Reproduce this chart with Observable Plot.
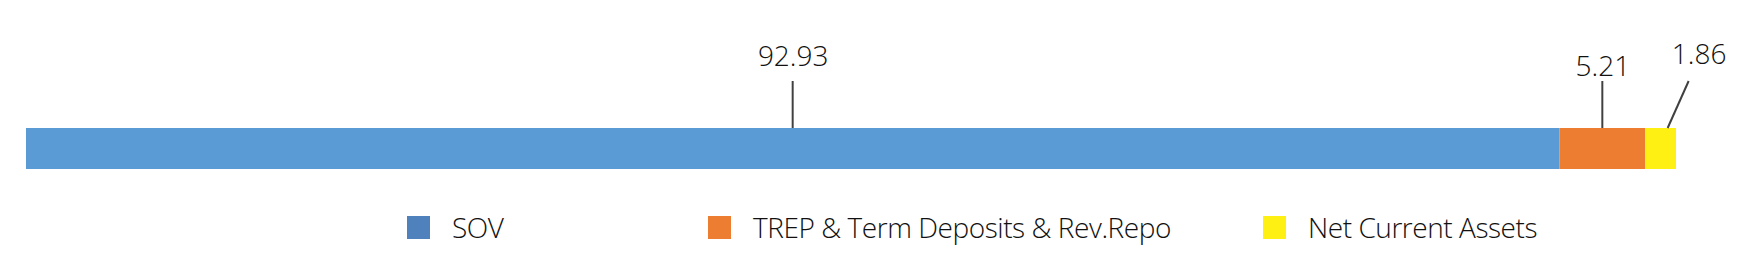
<!DOCTYPE html>
<html>
<head>
<meta charset="utf-8">
<script src="https://cdn.jsdelivr.net/npm/d3@7"></script>
<script src="https://cdn.jsdelivr.net/npm/@observablehq/plot@0.6"></script>
<style>
  html, body { margin: 0; padding: 0; background: #fff; }
  body { width: 1750px; height: 276px; overflow: hidden; font-family: "Open Sans", sans-serif; }
  #legend { position: relative; width: 1750px; height: 86px; }
  .item { position: absolute; top: 20px; height: 34px; display: flex; align-items: center; }
  .sw { width: 23px; height: 23px; margin-right: 22px; }
  .lbl { font-size: 28px; font-weight: 300; color: #111; white-space: nowrap; letter-spacing: -0.45px; }
</style>
</head>
<body>
<div id="chart"></div>
<div id="legend"></div>
<script>
// ---- data ----
const categories = ["SOV", "TREP & Term Deposits & Rev.Repo", "Net Current Assets"];
const values = [92.93, 5.21, 1.86];
const valueLabels = ["92.93", "5.21", "1.86"];
const group = "Portfolio";

// ---- styles ----
const barColors = ["#5B9BD5", "#ED7D31", "#FFF014"];
const legendColors = ["#4F81BD", "#ED7D31", "#FFF014"];
const legendLefts = [407, 708, 1263];

// cumulative stacking derived from values
let acc = 0;
const segs = categories.map((name, i) => {
  const s = { name, value: values[i], label: valueLabels[i], group, x1: acc, x2: acc + values[i] };
  acc += values[i];
  s.mid = (s.x1 + s.x2) / 2;
  return s;
});

function leaders(index, scales) {
  const sx = scales.x || (scales.scales && scales.scales.x);
  const sy = scales.y || (scales.scales && scales.scales.y);
  const top = sy(group);
  const g = d3.create("svg:g").attr("stroke", "#404040").attr("stroke-width", 2).attr("fill", "none");
  segs.forEach((d, i) => {
    const xm = sx(d.mid);
    const slanted = i === segs.length - 1;
    g.append("line")
      .attr("x1", slanted ? xm + 7 : xm).attr("y1", top)
      .attr("x2", slanted ? xm + 28 : xm).attr("y2", top - 47);
  });
  return g.node();
}

const text = (i, opts) => Plot.text(segs.filter((d, j) => j === i), {
  x: "mid", y: "group", text: "label", lineAnchor: "bottom",
  fontSize: 28, fontWeight: 300, fill: "#111", ...opts
});

const chart = Plot.plot({
  width: 1750,
  height: 190,
  marginLeft: 26,
  marginRight: 74,
  marginTop: 128,
  marginBottom: 21,
  x: { domain: [0, 100], axis: null },
  y: { domain: [group], axis: null, padding: 0 },
  color: { domain: categories, range: barColors },
  style: { fontFamily: "Open Sans", background: "white", overflow: "visible" },
  marks: [
    Plot.barX(segs, { x1: "x1", x2: "x2", y: "group", fill: "name" }),
    leaders,
    text(0, { dy: -83.5 }),
    text(1, { dy: -73.5 }),
    text(2, { dy: -85, dx: 38 })
  ]
});
document.getElementById("chart").appendChild(chart);

const legend = d3.select("#legend");
categories.forEach((name, i) => {
  const it = legend.append("div").attr("class", "item").style("left", legendLefts[i] + "px");
  it.append("div").attr("class", "sw").style("background", legendColors[i]);
  it.append("span").attr("class", "lbl").text(name);
});
</script>
</body>
</html>
